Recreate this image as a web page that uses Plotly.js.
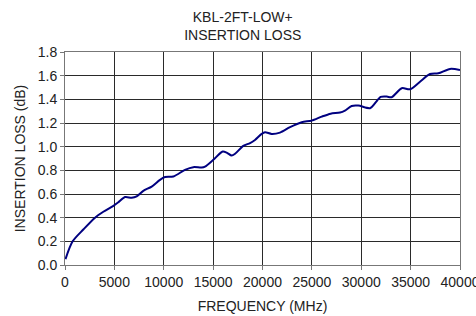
<!DOCTYPE html>
<html>
<head>
<meta charset="utf-8">
<script src="https://cdn.plot.ly/plotly-3.0.1.min.js"></script>
<style>html,body{margin:0;padding:0;background:#fff;}#chart{width:476px;height:316px;}</style>
</head>
<body>
<div id="chart"></div>
<script>
const frequencyMHz = [50, 775, 1855, 3040, 3880, 4900, 5400, 6075, 6750, 7260, 7930, 8780, 9620, 10130, 10970, 12150, 12990, 13840, 14180, 15020, 15970, 16370, 16880, 17220, 18060, 18740, 19240, 19920, 20250, 20930, 21770, 22790, 23970, 24980, 26000, 26900, 27850, 28350, 29030, 29700, 30890, 31390, 31970, 32580, 33080, 34100, 34940, 35950, 36960, 37800, 38990, 40000];
const insertionLossDB = [0.05, 0.2, 0.30, 0.40, 0.45, 0.50, 0.53, 0.574, 0.568, 0.58, 0.627, 0.663, 0.72, 0.743, 0.748, 0.804, 0.827, 0.824, 0.832, 0.889, 0.959, 0.95, 0.925, 0.94, 1.007, 1.03, 1.057, 1.108, 1.122, 1.108, 1.119, 1.165, 1.207, 1.22, 1.254, 1.279, 1.288, 1.305, 1.344, 1.347, 1.325, 1.367, 1.42, 1.423, 1.418, 1.494, 1.485, 1.549, 1.614, 1.62, 1.657, 1.648];
const xTicks = [0, 5000, 10000, 15000, 20000, 25000, 30000, 35000, 40000];
const yTicks = [0.0, 0.2, 0.4, 0.6, 0.8, 1.0, 1.2, 1.4, 1.6, 1.8];

const fontFam = 'Liberation Sans, Arial, sans-serif';
const trace = {
  x: frequencyMHz, y: insertionLossDB, type: 'scatter', mode: 'lines',
  line: {color: '#000080', width: 2, shape: 'spline', smoothing: 0.8},
  hoverinfo: 'skip'
};
const axisCommon = {
  showgrid: true, gridcolor: '#2a2a2a', gridwidth: 1,
  showline: true, linecolor: '#777', linewidth: 1, mirror: true,
  ticks: 'outside', ticklen: 4, tickcolor: '#777',
  zeroline: false, ticklabeloverflow: 'allow',
  tickfont: {family: fontFam, size: 14, color: '#222'}
};
const layout = {
  width: 476, height: 316,
  margin: {l: 65, r: 16, t: 52, b: 51, pad: 0},
  paper_bgcolor: '#fff', plot_bgcolor: '#fff',
  showlegend: false,
  title: {text: 'KBL-2FT-LOW+<br>INSERTION LOSS', x: 0.51, xanchor: 'center', yref: 'container', y: 0.931, yanchor: 'middle',
          font: {family: fontFam, size: 14, color: '#222'}},
  xaxis: Object.assign({}, axisCommon, {
    range: [0, 40000], tickvals: xTicks, ticktext: xTicks.map(String),
    title: {text: 'FREQUENCY (MHz)', font: {family: fontFam, size: 14, color: '#222'}, standoff: 12}
  }),
  yaxis: Object.assign({}, axisCommon, {
    range: [0, 1.8], tickvals: yTicks, ticktext: yTicks.map(v => v.toFixed(1)),
    title: {text: 'INSERTION LOSS (dB)', font: {family: fontFam, size: 14, color: '#222'}, standoff: 8}
  })
};
Plotly.newPlot('chart', [trace], layout, {staticPlot: true, displayModeBar: false});
</script>
</body>
</html>
